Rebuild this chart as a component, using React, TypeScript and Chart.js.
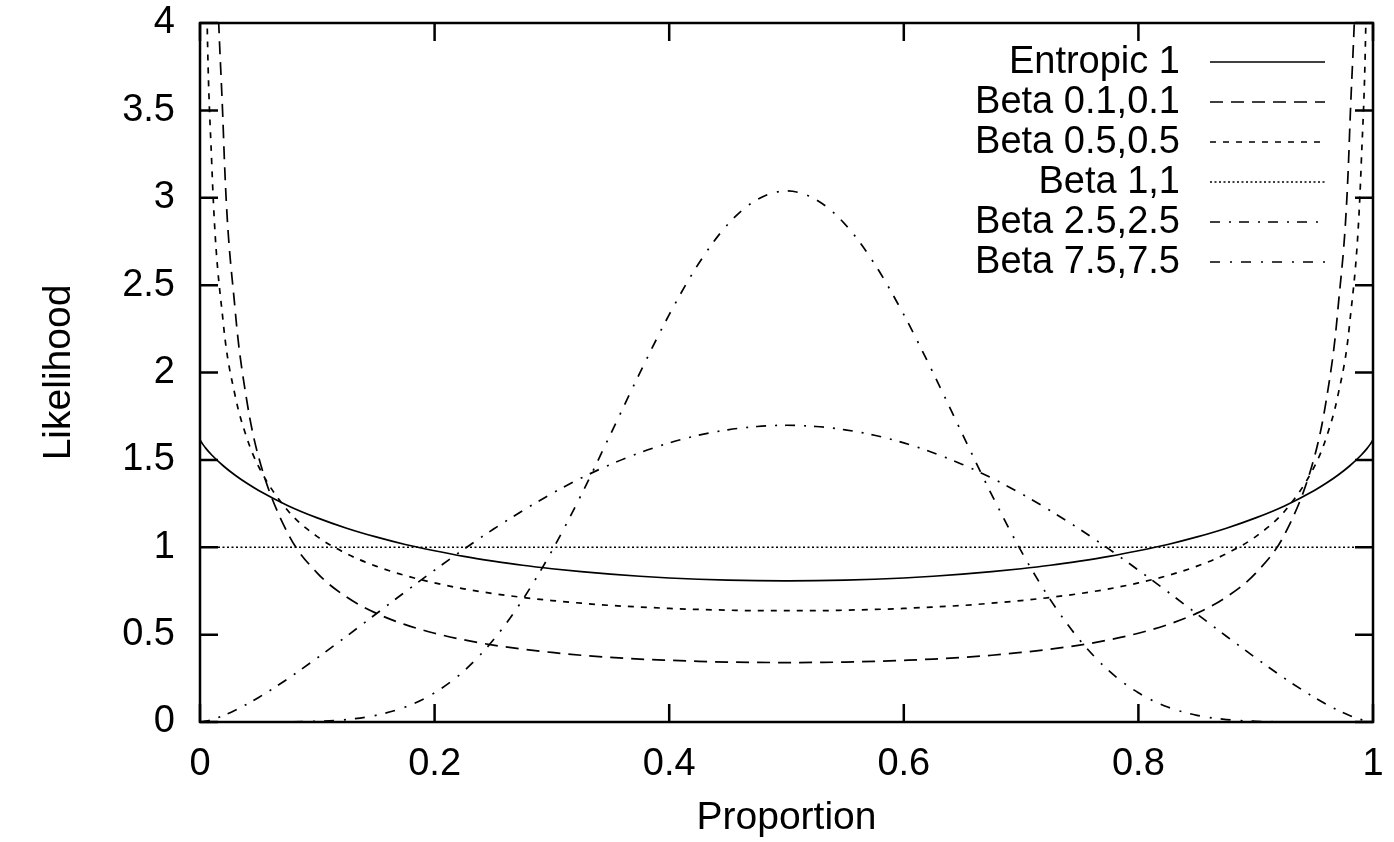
import React, { useEffect, useRef } from "react";
import { Chart, registerables } from "chart.js";

Chart.register(...registerables);

// Proportion (x) sample positions
const proportion = [
  0, 0.001, 0.002, 0.005, 0.01, 0.02, 0.03, 0.04, 0.05, 0.075, 0.1, 0.125, 0.15, 0.175, 0.2,
  0.225, 0.25, 0.275, 0.3, 0.325, 0.35, 0.375, 0.4, 0.425, 0.45, 0.475, 0.5,
  0.525, 0.55, 0.575, 0.6, 0.625, 0.65, 0.675, 0.7, 0.725, 0.75, 0.775, 0.8, 0.825, 0.85,
  0.875, 0.9, 0.925, 0.95, 0.96, 0.97, 0.98, 0.99, 0.995, 0.998, 0.999, 1,
];

const entropic1 = [
  1.616, 1.603, 1.593, 1.566, 1.528, 1.465, 1.412, 1.366, 1.325, 1.238, 1.168, 1.109, 1.059, 1.016, 0.98,
  0.948, 0.921, 0.897, 0.877, 0.86, 0.846, 0.834, 0.824, 0.817, 0.812, 0.809, 0.808,
  0.809, 0.812, 0.817, 0.824, 0.834, 0.846, 0.86, 0.877, 0.897, 0.921, 0.948, 0.98, 1.016, 1.059,
  1.109, 1.168, 1.238, 1.325, 1.366, 1.412, 1.465, 1.528, 1.566, 1.593, 1.603, 1.616,
];

const beta01 = [
  null, 48.96, 26.25, 11.54, 6.21, 3.36, 2.355, 1.835, 1.515, 1.078, 0.852, 0.715, 0.623, 0.557, 0.508,
  0.47, 0.44, 0.417, 0.398, 0.382, 0.37, 0.36, 0.353, 0.347, 0.343, 0.341, 0.34,
  0.341, 0.343, 0.347, 0.353, 0.36, 0.37, 0.382, 0.398, 0.417, 0.44, 0.47, 0.508, 0.557, 0.623,
  0.715, 0.852, 1.078, 1.515, 1.835, 2.355, 3.36, 6.21, 11.54, 26.25, 48.96, null,
];

const beta05 = [
  null, 10.07, 7.125, 4.513, 3.199, 2.274, 1.866, 1.624, 1.461, 1.209, 1.061, 0.963, 0.892, 0.838, 0.796,
  0.762, 0.735, 0.713, 0.695, 0.68, 0.667, 0.658, 0.65, 0.644, 0.64, 0.637, 0.637,
  0.637, 0.64, 0.644, 0.65, 0.658, 0.667, 0.68, 0.695, 0.713, 0.735, 0.762, 0.796, 0.838, 0.892,
  0.963, 1.061, 1.209, 1.461, 1.624, 1.866, 2.274, 3.199, 4.513, 7.125, 10.07, null,
];

const beta11 = [
  1, 1, 1, 1, 1, 1, 1, 1, 1, 1, 1, 1, 1, 1, 1,
  1, 1, 1, 1, 1, 1, 1, 1, 1, 1, 1, 1,
  1, 1, 1, 1, 1, 1, 1, 1, 1, 1, 1, 1, 1, 1,
  1, 1, 1, 1, 1, 1, 1, 1, 1, 1, 1, 1,
];

const beta25 = [
  0, 0.0004, 0.0012, 0.0048, 0.0134, 0.0373, 0.0674, 0.1022, 0.1406, 0.248, 0.367, 0.491, 0.618, 0.745, 0.869,
  0.989, 1.103, 1.209, 1.307, 1.396, 1.474, 1.541, 1.597, 1.641, 1.672, 1.691, 1.698,
  1.691, 1.672, 1.641, 1.597, 1.541, 1.474, 1.396, 1.307, 1.209, 1.103, 0.989, 0.869, 0.745, 0.618,
  0.491, 0.367, 0.248, 0.1406, 0.1022, 0.0674, 0.0373, 0.0134, 0.0048, 0.0012, 0.0004, 0,
];

const beta75 = [
  0, 0, 0, 0, 0, 0, 0, 0, 0.0001, 0.0007, 0.004, 0.0141, 0.0382, 0.0856, 0.167,
  0.292, 0.469, 0.699, 0.979, 1.3, 1.647, 1.998, 2.331, 2.622, 2.848, 2.99, 3.039,
  2.99, 2.848, 2.622, 2.331, 1.998, 1.647, 1.3, 0.979, 0.699, 0.469, 0.292, 0.167, 0.0856, 0.0382,
  0.0141, 0.004, 0.0007, 0.0001, 0, 0, 0, 0, 0, 0, 0, 0,
];

const seriesNames = [
  "Entropic 1",
  "Beta 0.1,0.1",
  "Beta 0.5,0.5",
  "Beta 1,1",
  "Beta 2.5,2.5",
  "Beta 7.5,7.5",
];
const seriesValues = [entropic1, beta01, beta05, beta11, beta25, beta75];

const xTickValues = [0, 0.2, 0.4, 0.6, 0.8, 1];
const yTickValues = [0, 0.5, 1, 1.5, 2, 2.5, 3, 3.5, 4];

// styles
const dashStyles: number[][] = [[], [13, 8], [6, 7], [2, 2.5], [10, 9, 2, 8], [10, 10, 2, 9]];
const FONT_FAMILY = '"Liberation Sans", Arial, Helvetica, sans-serif';
const FONT_SIZE = 38;
const TITLE_FONT_SIZE = 39;
const LINE_WIDTH = 1.7;

const framePlugin = {
  id: "gnuplotFrame",
  afterDatasetsDraw(chart: any) {
    const { ctx, chartArea: a, scales } = chart;
    ctx.save();
    ctx.strokeStyle = "#000";
    ctx.setLineDash([]);
    ctx.lineWidth = 2.5;
    ctx.strokeRect(a.left, a.top, a.right - a.left, a.bottom - a.top);
    ctx.beginPath();
    const tl = 18;
    for (const v of yTickValues) {
      const y = scales.y.getPixelForValue(v);
      ctx.moveTo(a.left, y);
      ctx.lineTo(a.left + tl, y);
      ctx.moveTo(a.right, y);
      ctx.lineTo(a.right - tl, y);
    }
    for (const v of xTickValues) {
      const x = scales.x.getPixelForValue(v);
      ctx.moveTo(x, a.bottom);
      ctx.lineTo(x, a.bottom - tl);
      ctx.moveTo(x, a.top);
      ctx.lineTo(x, a.top + tl);
    }
    ctx.stroke();

    // key (legend)
    ctx.font = `${FONT_SIZE}px ${FONT_FAMILY}`;
    ctx.fillStyle = "#000";
    ctx.textAlign = "right";
    ctx.textBaseline = "middle";
    const textRight = a.right - 193;
    const lineStart = a.right - 163;
    const lineEnd = a.right - 48;
    chart.data.datasets.forEach((ds: any, i: number) => {
      const y = a.top + 39 + i * 40;
      ctx.fillText(ds.label, textRight, y + 1);
      ctx.setLineDash(ds.borderDash || []);
      ctx.lineWidth = ds.borderWidth;
      ctx.beginPath();
      ctx.moveTo(lineStart, y);
      ctx.lineTo(lineEnd, y);
      ctx.stroke();
    });
    ctx.restore();
  },
};

export default function App() {
  const canvasRef = useRef<HTMLCanvasElement | null>(null);

  useEffect(() => {
    if (!canvasRef.current) return;
    const datasets = seriesNames.map((name, i) => ({
      label: name,
      data: proportion.map((x, j) => ({ x, y: seriesValues[i][j] })),
      borderColor: "#000",
      backgroundColor: "#000",
      borderWidth: LINE_WIDTH,
      borderDash: dashStyles[i],
      pointRadius: 0,
      pointHoverRadius: 0,
      fill: false,
      cubicInterpolationMode: "monotone" as const,
      spanGaps: false,
      clip: 0,
    }));

    const chart = new Chart(canvasRef.current, {
      type: "line",
      data: { datasets },
      options: {
        animation: false,
        responsive: false,
        maintainAspectRatio: false,
        events: [],
        layout: { padding: { left: 0, top: 23, right: 21, bottom: 0 } },
        plugins: {
          legend: { display: false },
          tooltip: { enabled: false },
        },
        scales: {
          x: {
            type: "linear",
            min: 0,
            max: 1,
            grid: { display: false, drawTicks: false, tickLength: 0 },
            border: { display: false },
            afterBuildTicks: (s: any) => {
              s.ticks = xTickValues.map((v) => ({ value: v }));
            },
            ticks: {
              color: "#000",
              padding: 20,
              maxRotation: 0,
              autoSkip: false,
              font: { family: FONT_FAMILY, size: FONT_SIZE },
              callback: (v: any) => String(Number(Number(v).toFixed(1))),
            },
            title: {
              display: true,
              text: "Proportion",
              color: "#000",
              font: { family: FONT_FAMILY, size: TITLE_FONT_SIZE },
              padding: { top: 0, bottom: 0 },
            },
            afterFit: (s: any) => {
              s.height = 120;
              s.paddingLeft = 0;
              s.paddingRight = 0;
            },
          },
          y: {
            type: "linear",
            min: 0,
            max: 4,
            grid: { display: false, drawTicks: false, tickLength: 0 },
            border: { display: false },
            afterBuildTicks: (s: any) => {
              s.ticks = yTickValues.map((v) => ({ value: v }));
            },
            ticks: {
              color: "#000",
              padding: 25,
              autoSkip: false,
              font: { family: FONT_FAMILY, size: FONT_SIZE },
              callback: (v: any) => String(Number(Number(v).toFixed(1))),
            },
            title: {
              display: true,
              text: "Likelihood",
              color: "#000",
              font: { family: FONT_FAMILY, size: TITLE_FONT_SIZE },
              padding: { top: 36, bottom: 0 },
            },
            afterFit: (s: any) => {
              s.width = 200;
              s.paddingTop = 0;
              s.paddingBottom = 0;
            },
          },
        },
      },
      plugins: [framePlugin],
    });
    return () => chart.destroy();
  }, []);

  return (
    <div
      style={{
        position: "fixed",
        left: 0,
        top: 0,
        width: 1394,
        height: 842,
        background: "#fff",
      }}
    >
      <canvas ref={canvasRef} width={1394} height={842} style={{ width: 1394, height: 842 }} />
    </div>
  );
}
